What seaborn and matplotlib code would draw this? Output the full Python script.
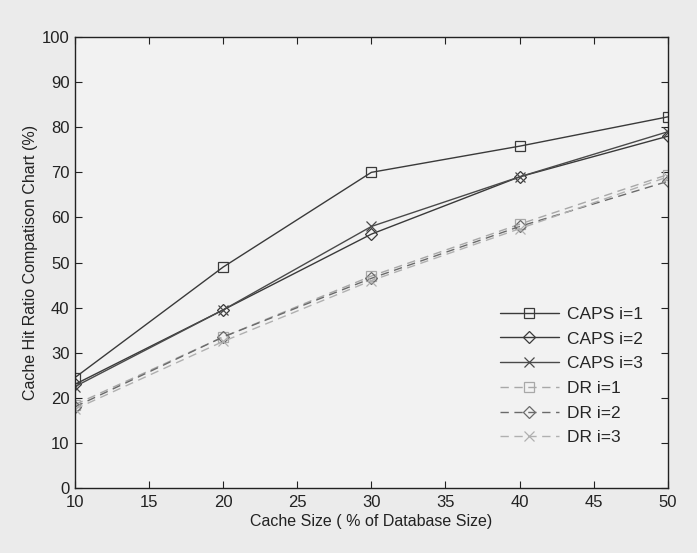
import matplotlib
matplotlib.use('Agg')
import matplotlib.pyplot as plt
import seaborn as sns
import pandas as pd

# cache size (% of database size)
cache_size = [10, 20, 30, 40, 50]

caps_i1 = [24.5, 49.0, 70.0, 75.8, 82.3]
caps_i2 = [23.0, 39.5, 56.3, 69.0, 78.0]
caps_i3 = [22.5, 39.5, 58.0, 69.0, 79.0]
dr_i1 = [18.5, 33.5, 47.0, 58.5, 69.5]
dr_i2 = [18.0, 33.5, 46.5, 58.0, 68.0]
dr_i3 = [17.5, 32.5, 46.0, 57.5, 69.0]

series_names = ['CAPS i=1', 'CAPS i=2', 'CAPS i=3', 'DR i=1', 'DR i=2', 'DR i=3']
series_values = [caps_i1, caps_i2, caps_i3, dr_i1, dr_i2, dr_i3]

sns.set_theme(style='ticks')
plt.rcParams['font.family'] = ['Liberation Sans', 'DejaVu Sans']

# look of each line: colour, dash, marker
styles = {
    'CAPS i=1': dict(color='#3a3a3a', linestyle='-', marker='s'),
    'CAPS i=2': dict(color='#3a3a3a', linestyle='-', marker='D'),
    'CAPS i=3': dict(color='#4a4a4a', linestyle='-', marker='x'),
    'DR i=1': dict(color='#a8a8a8', linestyle=(0, (6, 4)), marker='s'),
    'DR i=2': dict(color='#6a6a6a', linestyle=(0, (6, 4)), marker='D'),
    'DR i=3': dict(color='#b0b0b0', linestyle=(0, (6, 4)), marker='x'),
}

fig = plt.figure(figsize=(6.97, 5.53), dpi=100, facecolor='#ebebeb')
ax = fig.add_axes([0.1076, 0.1175, 0.8504, 0.8155])
ax.set_facecolor('#f2f2f2')

for name, vals in zip(series_names, series_values):
    df = pd.DataFrame({'x': cache_size, 'y': vals})
    st = styles[name]
    ms = 6.5 if st['marker'] == 'D' else 7
    sns.lineplot(data=df, x='x', y='y', ax=ax, label=name, color=st['color'],
                 linestyle=st['linestyle'], marker=st['marker'], markersize=ms,
                 markerfacecolor='none', markeredgecolor=st['color'],
                 markeredgewidth=0.9, linewidth=1.0)

ax.set_xlim(10, 50)
ax.set_ylim(0, 100)
ax.set_xticks(range(10, 51, 5))
ax.set_yticks(range(0, 101, 10))
ax.tick_params(direction='in', top=True, right=True, length=5, width=0.8,
               labelsize=12, colors='#222222')
ax.tick_params(axis='x', pad=5)
ax.tick_params(axis='y', pad=4)
for sp in ax.spines.values():
    sp.set_visible(True)
    sp.set_color('#222222')
    sp.set_linewidth(1.0)

ax.set_xlabel('Cache Size ( % of Database Size)', fontsize=11.5, color='#222222', labelpad=3)
ax.set_ylabel('Cache Hit Ratio Compatison Chart (%)', fontsize=11.5, color='#222222', labelpad=3)

leg = ax.legend(loc='lower right', bbox_to_anchor=(0.985, 0.06), frameon=False,
                fontsize=12.5, handlelength=3.4, labelspacing=0.55, handletextpad=0.5)

fig.savefig('out.png', dpi=100, facecolor=fig.get_facecolor())
